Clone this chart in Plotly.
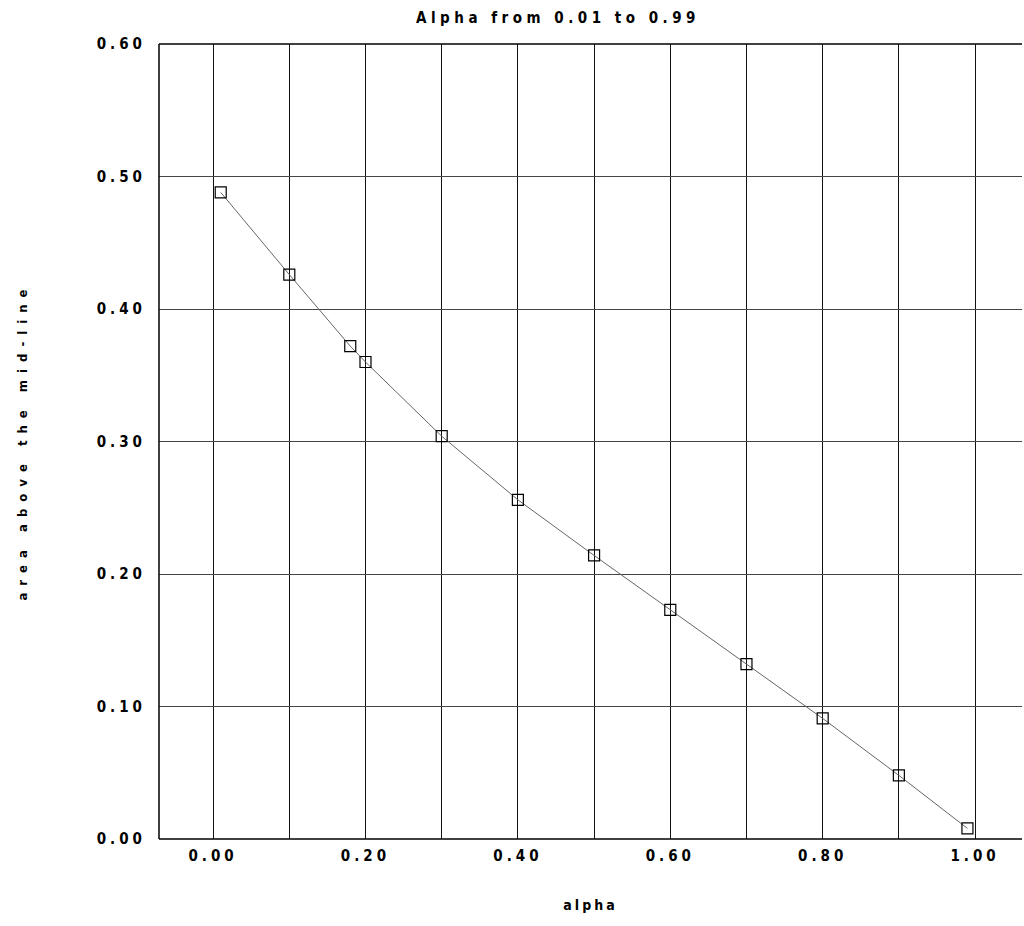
import plotly.graph_objects as go

alpha = [0.01, 0.10, 0.18, 0.20, 0.30, 0.40, 0.50, 0.60, 0.70, 0.80, 0.90, 0.99]
area = [0.488, 0.426, 0.372, 0.360, 0.304, 0.256, 0.214, 0.173, 0.132, 0.091, 0.048, 0.008]

x_tickvals = [0.0, 0.1, 0.2, 0.3, 0.4, 0.5, 0.6, 0.7, 0.8, 0.9, 1.0]
x_ticktext = ["0.00", "", "0.20", "", "0.40", "", "0.60", "", "0.80", "", "1.00"]
y_tickvals = [0.0, 0.1, 0.2, 0.3, 0.4, 0.5, 0.6]
y_ticktext = ["0.00", "0.10", "0.20", "0.30", "0.40", "0.50", "0.60"]

FONT = "DejaVu Sans Condensed, Liberation Sans Narrow, Arial Narrow, sans-serif"

fig = go.Figure()
fig.add_trace(go.Scatter(
    x=alpha, y=area, mode="lines+markers",
    line=dict(color="#666666", width=1),
    marker=dict(symbol="square-open", size=11, color="black", line=dict(width=1.2, color="black")),
    showlegend=False,
))

fig.update_layout(
    width=1024, height=926,
    margin=dict(l=159, r=2, t=44, b=87, pad=0),
    paper_bgcolor="white", plot_bgcolor="white",
    font=dict(family=FONT, size=15, color="black", weight="bold"),
    title=dict(text="Alpha from 0.01 to 0.99", x=558/1024, xref="container", xanchor="center",
               y=1 - 18/926, yref="container", yanchor="middle",
               font=dict(family=FONT, size=15, color="black", weight="bold")),
    shapes=[
        dict(type="line", xref="paper", yref="paper", x0=0, x1=1, y0=0, y1=0,
             line=dict(color="black", width=1.5), layer="above"),
        dict(type="line", xref="paper", yref="paper", x0=0, x1=1, y0=1, y1=1,
             line=dict(color="black", width=1.5), layer="above"),
        dict(type="line", xref="paper", yref="paper", x0=0, x1=0, y0=0, y1=1,
             line=dict(color="black", width=1.5), layer="above"),
    ],
)
fig.update_xaxes(
    range=[-0.071, 1.0616], tickvals=x_tickvals, ticktext=x_ticktext,
    showgrid=True, gridcolor="#111111", gridwidth=1.2,
    showline=False, ticks="", zeroline=False, ticklabelstandoff=6,
    title=dict(text="alpha", standoff=36, font=dict(family=FONT, size=14, weight="bold")),
)
fig.update_yaxes(
    range=[0, 0.6], tickvals=y_tickvals, ticktext=y_ticktext,
    showgrid=True, gridcolor="#444444", gridwidth=1,
    showline=False, ticks="", zeroline=False, ticklabelstandoff=12,
    title=dict(text="area above the mid-line", standoff=82, font=dict(family=FONT, size=13, weight="bold")),
)

post = """
(function(){
  var gd = document.querySelector('.plotly-graph-div');
  function sp(){
    document.querySelectorAll('.xtick text, .ytick text').forEach(function(t){t.style.letterSpacing='4px';});
    document.querySelectorAll('.gtitle').forEach(function(t){t.style.letterSpacing='4.5px';});
    document.querySelectorAll('.xtitle').forEach(function(t){t.style.letterSpacing='3px';});
    document.querySelectorAll('.ytitle').forEach(function(t){t.style.letterSpacing='7px';});
  }
  sp();
  if (gd && gd.on) { gd.on('plotly_afterplot', sp); }
})();
"""

fig.write_html("out.html", post_script=post)
